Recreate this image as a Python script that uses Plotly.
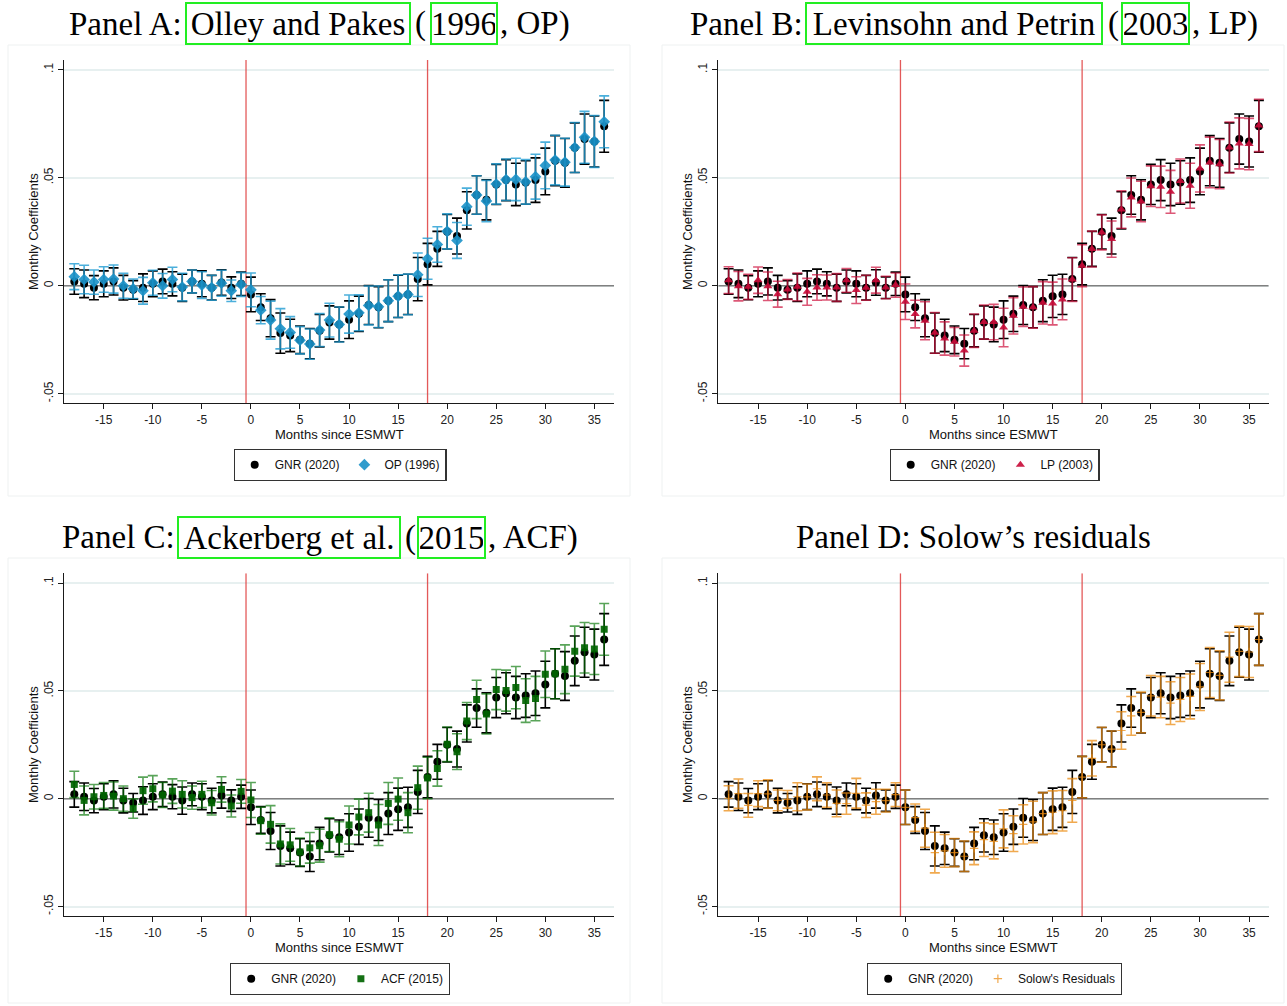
import plotly.graph_objects as go

W, H = 1287, 1006

# ---------------------------------------------------------------- data
months = list(range(-18, 37))

gnr = [0.0020, 0.0009, -0.0009, 0.0009, 0.0020, -0.0009, -0.0019, -0.0009, 0.0009,
       0.0020, 0.0009, -0.0009, 0.0020, 0.0009, -0.0009, 0.0015, -0.0009, 0.0009,
       -0.0040, -0.0099, -0.0150, -0.0219, -0.0230, -0.0250, -0.0268, -0.0208, -0.0170,
       -0.0179, -0.0157, -0.0130, -0.0089, -0.0099, -0.0069, -0.0049, -0.0040, 0.0031,
       0.0100, 0.0171, 0.0250, 0.0230, 0.0349, 0.0420, 0.0398, 0.0469, 0.0489, 0.0469,
       0.0478, 0.0489, 0.0529, 0.0579, 0.0569, 0.0639, 0.0679, 0.0668, 0.0738]
gnr_hw = [0.0059, 0.0064, 0.0056, 0.0060, 0.0063, 0.0057, 0.0043, 0.0064, 0.0060,
          0.0057, 0.0056, 0.0063, 0.0053, 0.0060, 0.0057, 0.0059, 0.0050, 0.0054,
          0.0080, 0.0062, 0.0086, 0.0093, 0.0075, 0.0064, 0.0070, 0.0075, 0.0077,
          0.0080, 0.0087, 0.0082, 0.0090, 0.0095, 0.0097, 0.0098, 0.0093, 0.0100,
          0.0096, 0.0081, 0.0080, 0.0083, 0.0086, 0.0089, 0.0093, 0.0093, 0.0095,
          0.0098, 0.0101, 0.0103, 0.0108, 0.0116, 0.0113, 0.0115, 0.0116, 0.0118, 0.0120]

op = [0.0042, 0.0029, 0.0017, 0.0029, 0.0031, 0.0000, -0.0014, -0.0023, 0.0014,
      0.0000, 0.0029, -0.0006, 0.0020, 0.0003, -0.0009, 0.0012, -0.0023, 0.0006,
      -0.0019, -0.0113, -0.0159, -0.0199, -0.0216, -0.0252, -0.0270, -0.0205, -0.0159,
      -0.0179, -0.0131, -0.0125, -0.0091, -0.0097, -0.0069, -0.0048, -0.0040, 0.0051,
      0.0125, 0.0191, 0.0252, 0.0210, 0.0366, 0.0420, 0.0392, 0.0471, 0.0491, 0.0492,
      0.0481, 0.0505, 0.0557, 0.0582, 0.0572, 0.0640, 0.0687, 0.0668, 0.0759]
op_hw = [0.0060, 0.0066, 0.0056, 0.0059, 0.0065, 0.0058, 0.0045, 0.0062, 0.0058,
         0.0057, 0.0057, 0.0064, 0.0053, 0.0062, 0.0058, 0.0060, 0.0050, 0.0055,
         0.0078, 0.0063, 0.0088, 0.0093, 0.0073, 0.0063, 0.0070, 0.0076, 0.0078,
         0.0081, 0.0088, 0.0083, 0.0090, 0.0096, 0.0097, 0.0099, 0.0094, 0.0101,
         0.0095, 0.0082, 0.0081, 0.0083, 0.0086, 0.0089, 0.0096, 0.0093, 0.0096,
         0.0098, 0.0103, 0.0104, 0.0108, 0.0115, 0.0111, 0.0116, 0.0120, 0.0120, 0.0120]

lp = [0.0026, -0.0002, -0.0005, 0.0026, -0.0002, -0.0039, -0.0017, -0.0005, -0.0028,
      -0.0008, -0.0008, -0.0008, 0.0025, -0.0020, -0.0009, 0.0026, -0.0008, 0.0003,
      -0.0074, -0.0131, -0.0162, -0.0218, -0.0244, -0.0259, -0.0300, -0.0208, -0.0168,
      -0.0168, -0.0193, -0.0139, -0.0097, -0.0100, -0.0079, -0.0082, -0.0063, 0.0029,
      0.0093, 0.0170, 0.0247, 0.0216, 0.0353, 0.0409, 0.0390, 0.0461, 0.0458, 0.0435,
      0.0485, 0.0463, 0.0543, 0.0571, 0.0563, 0.0640, 0.0659, 0.0656, 0.0742]
lp_hw = [0.0062, 0.0068, 0.0058, 0.0061, 0.0066, 0.0060, 0.0046, 0.0064, 0.0062,
         0.0059, 0.0058, 0.0064, 0.0055, 0.0062, 0.0058, 0.0060, 0.0052, 0.0056,
         0.0082, 0.0064, 0.0088, 0.0094, 0.0077, 0.0066, 0.0072, 0.0077, 0.0079,
         0.0082, 0.0089, 0.0084, 0.0091, 0.0096, 0.0098, 0.0099, 0.0094, 0.0101,
         0.0097, 0.0083, 0.0081, 0.0084, 0.0087, 0.0090, 0.0094, 0.0094, 0.0096,
         0.0099, 0.0102, 0.0104, 0.0109, 0.0117, 0.0114, 0.0118, 0.0118, 0.0119, 0.0121]

acf = [0.0066, -0.0008, 0.0009, 0.0015, 0.0012, 0.0000, -0.0046, 0.0037, 0.0046,
       0.0017, 0.0035, 0.0020, 0.0005, 0.0020, -0.0019, 0.0043, -0.0034, 0.0034,
       -0.0006, -0.0102, -0.0119, -0.0210, -0.0214, -0.0247, -0.0228, -0.0218, -0.0167,
       -0.0188, -0.0122, -0.0085, -0.0065, -0.0122, -0.0022, -0.0002, -0.0065, 0.0051,
       0.0096, 0.0140, 0.0252, 0.0218, 0.0360, 0.0460, 0.0393, 0.0506, 0.0501, 0.0515,
       0.0455, 0.0464, 0.0577, 0.0579, 0.0600, 0.0684, 0.0700, 0.0694, 0.0785]
acf_hw = [0.0061, 0.0067, 0.0057, 0.0060, 0.0065, 0.0059, 0.0045, 0.0063, 0.0061,
          0.0058, 0.0057, 0.0063, 0.0054, 0.0061, 0.0057, 0.0059, 0.0051, 0.0055,
          0.0081, 0.0063, 0.0087, 0.0093, 0.0076, 0.0065, 0.0071, 0.0076, 0.0078,
          0.0081, 0.0088, 0.0083, 0.0090, 0.0095, 0.0097, 0.0098, 0.0093, 0.0100,
          0.0096, 0.0082, 0.0080, 0.0083, 0.0086, 0.0089, 0.0093, 0.0093, 0.0095,
          0.0098, 0.0101, 0.0103, 0.0108, 0.0116, 0.0113, 0.0116, 0.0117, 0.0118, 0.0120]

solow = [0.0002, 0.0023, -0.0031, 0.0023, 0.0022, -0.0008, -0.0003, 0.0009, 0.0008,
         0.0046, 0.0017, -0.0022, -0.0023, 0.0025, -0.0030, -0.0014, -0.0009, 0.0019,
         -0.0040, -0.0088, -0.0137, -0.0250, -0.0242, -0.0250, -0.0267, -0.0230, -0.0190,
         -0.0198, -0.0140, -0.0162, -0.0119, -0.0108, -0.0069, -0.0063, -0.0056, -0.0008,
         0.0100, 0.0187, 0.0250, 0.0230, 0.0316, 0.0384, 0.0400, 0.0477, 0.0471, 0.0443,
         0.0460, 0.0474, 0.0518, 0.0585, 0.0572, 0.0656, 0.0683, 0.0680, 0.0738]
solow_hw = [0.0058, 0.0068, 0.0055, 0.0060, 0.0066, 0.0048, 0.0041, 0.0065, 0.0060,
            0.0055, 0.0057, 0.0062, 0.0049, 0.0069, 0.0057, 0.0058, 0.0053, 0.0055,
            0.0080, 0.0063, 0.0088, 0.0094, 0.0076, 0.0065, 0.0071, 0.0076, 0.0078,
            0.0081, 0.0088, 0.0083, 0.0091, 0.0096, 0.0097, 0.0099, 0.0094, 0.0101,
            0.0096, 0.0082, 0.0081, 0.0084, 0.0087, 0.0090, 0.0094, 0.0094, 0.0096,
            0.0099, 0.0102, 0.0104, 0.0109, 0.0116, 0.0114, 0.0116, 0.0117, 0.0118, 0.0120]

y_tickvals = [-0.05, 0, 0.05, 0.1]
y_ticktext = ["-.05", "0", ".05", ".1"]
x_tickvals = [-15, -10, -5, 0, 5, 10, 15, 20, 25, 30, 35]
x_ticktext = ["-15", "-10", "-5", "0", "5", "10", "15", "20", "25", "30", "35"]
event_lines = [-0.5, 18]

# ---------------------------------------------------------------- styling
SANS = "Liberation Sans, Arial, Helvetica, sans-serif"
SERIF = "Liberation Serif, Times New Roman, serif"

# pixel geometry of the four plotting areas (left, right) / (top, bottom)
cols = [(64, 614), (718.3, 1268.7)]
rows = [(60, 403.3), (573.3, 916)]

panels = [
    dict(row=0, col=0, series=op, hw=op_hw, name="OP (1996)",
         symbol="diamond", msize=9, mcolor="rgba(25,145,200,0.90)",
         ecolor="rgba(30,155,210,0.80)"),
    dict(row=0, col=1, series=lp, hw=lp_hw, name="LP (2003)",
         symbol="triangle-up", msize=8, mcolor="rgba(200,10,55,0.90)",
         ecolor="rgba(205,15,60,0.70)"),
    dict(row=1, col=0, series=acf, hw=acf_hw, name="ACF (2015)",
         symbol="square", msize=7, mcolor="rgba(0,100,0,0.92)",
         ecolor="rgba(0,115,0,0.65)"),
    dict(row=1, col=1, series=solow, hw=solow_hw, name="Solow's Residuals",
         symbol="cross-thin", msize=6, mcolor="rgba(235,140,20,0.75)",
         ecolor="rgba(235,140,20,0.75)"),
]

# panel titles: pieces of (text, left px, None) or (text, None, (box left, box right))
titles = [
    (24, [("Panel A:", 67, None), ("Olley and Pakes", None, (186, 410)),
          ("(", 413, None), ("1996", None, (431, 497)), (", OP)", 498, None)]),
    (24, [("Panel B:", 688, None), ("Levinsohn and Petrin", None, (806, 1102)),
          ("(", 1106, None), ("2003", None, (1122, 1189)), (", LP)", 1190, None)]),
    (537, [("Panel C:", 60, None), ("Ackerberg et al.", None, (178, 400)),
           ("(", 403, None), ("2015", None, (418, 485)), (", ACF)", 486, None)]),
]

fig = go.Figure()
shapes = []
annotations = []


def px_x(p):
    return p / W


def px_y(p):
    return 1 - p / H


x_range = [-19.05, 37.0]
y_range = [-0.0544, 0.1045]

for i, p in enumerate(panels):
    idx = i + 1
    sfx = "" if idx == 1 else str(idx)
    xa, ya = "x" + sfx, "y" + sfx
    leg = "legend" + sfx
    (cl, cr), (rt, rb) = cols[p["col"]], rows[p["row"]]

    fig.update_layout(**{
        "xaxis" + sfx: dict(
            domain=[px_x(cl), px_x(cr)], anchor=ya, range=x_range,
            tickvals=x_tickvals, ticktext=x_ticktext, ticks="outside", ticklen=5,
            tickwidth=1.2, tickcolor="#1a1a1a", showline=True, linecolor="#1a1a1a",
            linewidth=1.3, showgrid=False, zeroline=False,
            tickfont=dict(family=SANS, size=12, color="#222")),
        "yaxis" + sfx: dict(
            domain=[px_y(rb), px_y(rt)], anchor=xa, range=y_range,
            tickvals=y_tickvals, ticktext=y_ticktext, tickangle=-90,
            ticks="outside", ticklen=5, tickwidth=1.2, tickcolor="#1a1a1a",
            showline=True, linecolor="#1a1a1a", linewidth=1.3,
            showgrid=True, gridcolor="#e7f0f0", gridwidth=1.5, zeroline=False,
            tickfont=dict(family=SANS, size=12, color="#222")),
        leg: dict(
            orientation="h", x=px_x((cl + cr) / 2 + 1), xanchor="center",
            y=px_y(449 if p["row"] == 0 else 963), yanchor="top",
            bordercolor="#333", borderwidth=1.2, bgcolor="white",
            font=dict(family=SANS, size=12, color="#111")),
    })

    # zero reference line
    fig.add_trace(go.Scatter(
        x=x_range, y=[0, 0], mode="lines", xaxis=xa, yaxis=ya,
        showlegend=False, hoverinfo="skip",
        line=dict(color="#808080", width=1.5)))
    # event markers
    for ev in event_lines:
        fig.add_trace(go.Scatter(
            x=[ev, ev], y=y_range, mode="lines", xaxis=xa, yaxis=ya,
            showlegend=False, hoverinfo="skip",
            line=dict(color="rgba(222,60,60,0.85)", width=1.3)))

    # benchmark GNR estimates
    fig.add_trace(go.Scatter(
        x=months, y=gnr, mode="markers", name="GNR (2020)",
        xaxis=xa, yaxis=ya, legend=leg,
        marker=dict(symbol="circle", size=8, color="black"),
        error_y=dict(type="data", array=gnr_hw, symmetric=True,
                     color="black", thickness=1.6, width=5),
    ))
    # alternative productivity estimates
    if p["symbol"] == "cross-thin":
        mk = dict(symbol="cross-thin", size=p["msize"],
                  line=dict(color=p["mcolor"], width=1.2))
    else:
        mk = dict(symbol=p["symbol"], size=p["msize"], color=p["mcolor"])
    fig.add_trace(go.Scatter(
        x=months, y=p["series"], mode="markers", name=p["name"],
        xaxis=xa, yaxis=ya, legend=leg, marker=mk,
        error_y=dict(type="data", array=p["hw"], symmetric=True,
                     color=p["ecolor"], thickness=1.6, width=5),
    ))

    # faint frame around each graph region
    fl, fr = (8, 630) if p["col"] == 0 else (662, 1284)
    ft, fb = (45, 496) if p["row"] == 0 else (558, 1003)
    shapes.append(dict(type="rect", xref="paper", yref="paper",
                       x0=px_x(fl), x1=px_x(fr), y0=px_y(fb), y1=px_y(ft),
                       line=dict(color="#eef1f1", width=1), layer="below"))

    # axis titles
    annotations.append(dict(
        text="Months since ESMWT", xref="paper", yref="paper",
        x=px_x((cl + cr) / 2), y=px_y(434 if p["row"] == 0 else 947.5),
        xanchor="center", yanchor="middle", showarrow=False,
        font=dict(family=SANS, size=13, color="#111")))
    annotations.append(dict(
        text="Monthly Coefficients", xref="paper", yref="paper",
        x=px_x(33 if p["col"] == 0 else 687),
        y=px_y(232 if p["row"] == 0 else 745),
        xanchor="center", yanchor="middle", showarrow=False, textangle=-90,
        font=dict(family=SANS, size=13, color="#111")))

# panel titles with framed citation links
TITLE_SIZE = 33
for yc, pieces in titles:
    for text, left, box in pieces:
        if box is None:
            annotations.append(dict(
                text=text, xref="paper", yref="paper", x=px_x(left), y=px_y(yc),
                xanchor="left", yanchor="middle", showarrow=False,
                font=dict(family=SERIF, size=TITLE_SIZE, color="black")))
        else:
            bl, br = box
            annotations.append(dict(
                text=text, xref="paper", yref="paper", x=px_x((bl + br) / 2),
                y=px_y(yc), xanchor="center", yanchor="middle", showarrow=False,
                width=br - bl - 4, height=37, borderpad=1,
                bordercolor="#22ee22", borderwidth=2, align="center",
                font=dict(family=SERIF, size=TITLE_SIZE, color="black")))

annotations.append(dict(
    text="Panel D: Solow\u2019s residuals", xref="paper", yref="paper",
    x=px_x(974), y=px_y(537), xanchor="center", yanchor="middle",
    showarrow=False, font=dict(family=SERIF, size=TITLE_SIZE, color="black")))

fig.update_layout(
    width=W, height=H, margin=dict(l=0, r=0, t=0, b=0),
    paper_bgcolor="white", plot_bgcolor="white",
    shapes=shapes, annotations=annotations, showlegend=True,
)

fig.write_html("out.html")
